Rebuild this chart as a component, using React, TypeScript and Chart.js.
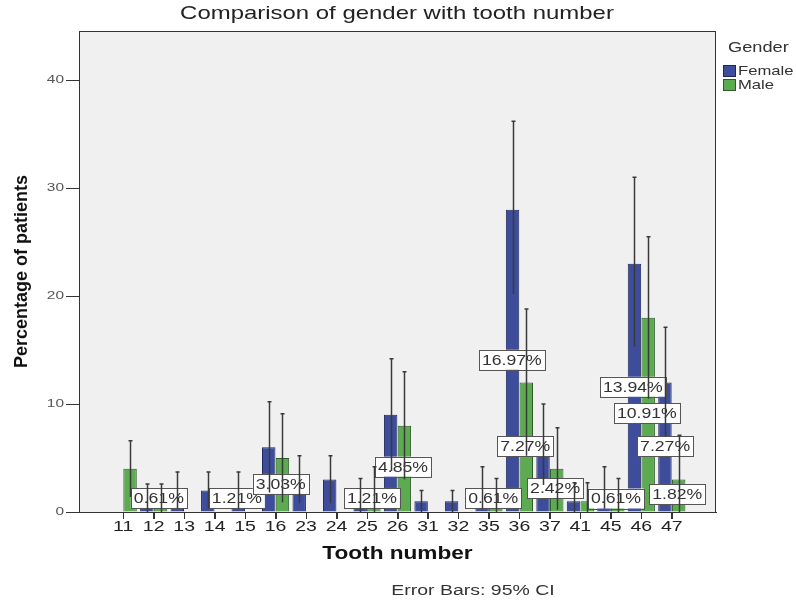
import React, { useEffect, useRef } from 'react';
import { Chart, registerables } from 'chart.js';

Chart.register(...registerables);

// ---------- data ----------
const toothLabels = ['11', '12', '13', '14', '15', '16', '23', '24', '25', '26', '31', '32', '35', '36', '37', '41', '45', '46', '47'];
const female = [null, 1, 2, 2, 2, 6, 3, 3, 1, 9, 1, 1, 2, 28, 6, 1, 2, 23, 12];
const male = [4, 1, null, null, null, 5, null, null, 2, 8, null, null, 1, 12, 4, 1, 1, 18, 3];
const femaleLow = [null, 0, 0.3, 0.3, 0.3, 1.8, 0.8, 0.8, 0, 3.8, 0, 0, 0.3, 20.2, 2.5, 0, 0.3, 15.3, 7.0];
const femaleHigh = [null, 2.6, 3.7, 3.7, 3.7, 10.2, 5.2, 5.2, 3.1, 14.2, 2.0, 2.0, 4.2, 36.2, 10.0, 2.7, 4.2, 31.0, 17.1];
const maleLow = [1.4, 0, null, null, null, 0.9, null, null, 0, 3.0, null, null, 0, 5.2, 0.2, 0, 0, 10.5, 0];
const maleHigh = [6.6, 2.6, null, null, null, 9.1, null, null, 4.2, 13.0, null, null, 3.1, 18.8, 7.8, 2.7, 3.1, 25.5, 7.1];
const yTickValues = [0, 10, 20, 30, 40];

// value labels (percent of all patients), placed in data units
const pctText = ['0.61%', '1.21%', '3.03%', '1.21%', '4.85%', '0.61%', '16.97%', '7.27%', '2.42%', '0.61%', '13.94%', '10.91%', '7.27%', '1.82%'];
const pctX = [1.17, 3.73, 5.17, 8.16, 9.18, 12.14, 12.75, 13.19, 14.17, 16.17, 16.72, 17.18, 17.78, 18.18];
const pctY = [1.3, 1.3, 2.6, 1.3, 4.2, 1.3, 14.1, 6.1, 2.2, 1.25, 11.6, 9.17, 6.1, 1.67];

const seriesNames = ['Female', 'Male'];
const legendTitle = 'Gender';
const chartTitle = 'Comparison of gender with tooth number';
const xTitle = 'Tooth number';
const yTitle = 'Percentage of patients';
const footNote = 'Error Bars: 95% CI';

// ---------- styles ----------
const FONT = "'Liberation Sans', Arial, sans-serif";
const FEMALE_FILL = '#3d4d9c';
const FEMALE_EDGE = '#1e275a';
const MALE_FILL = '#5cab50';
const MALE_EDGE = '#2d5a28';

function drawText(
  ctx: CanvasRenderingContext2D,
  text: string,
  x: number,
  y: number,
  font: string,
  color: string,
  sx: number,
  align: CanvasTextAlign = 'center',
  rot = 0
) {
  ctx.save();
  ctx.translate(x, y);
  if (rot) ctx.rotate(rot);
  ctx.scale(sx, 1);
  ctx.font = font;
  ctx.fillStyle = color;
  ctx.textAlign = align;
  ctx.textBaseline = 'middle';
  ctx.fillText(text, 0, 0);
  ctx.restore();
}

export default function App() {
  const ref = useRef<HTMLCanvasElement>(null);

  useEffect(() => {
    const canvas = ref.current!;
    const spss = {
      id: 'spss',
      beforeDraw(chart: any) {
        const { ctx, chartArea: a } = chart;
        ctx.save();
        ctx.fillStyle = '#ffffff';
        ctx.fillRect(0, 0, chart.width, chart.height);
        ctx.fillStyle = '#f0f0f0';
        ctx.fillRect(a.left, a.top, a.right - a.left, a.bottom - a.top);
        ctx.restore();
      },
      afterDatasetsDraw(chart: any) {
        const { ctx, chartArea: a } = chart;
        const xs = chart.scales.x;
        const ys = chart.scales.y;
        // value label boxes
        ctx.save();
        for (let k = 0; k < pctText.length; k++) {
          const px = xs.getPixelForValue(pctX[k]);
          const py = ys.getPixelForValue(pctY[k]);
          ctx.font = `14px ${FONT}`;
          const sx = 1.26;
          const w = ctx.measureText(pctText[k]).width * sx + 6;
          const h = 20;
          ctx.fillStyle = '#ffffff';
          ctx.fillRect(px - w / 2, py - h / 2, w, h);
          ctx.strokeStyle = '#555555';
          ctx.lineWidth = 1;
          ctx.strokeRect(Math.round(px - w / 2) + 0.5, Math.round(py - h / 2) + 0.5, Math.round(w), h);
          drawText(ctx, pctText[k], px, py + 1, `14px ${FONT}`, '#333333', sx);
        }
        ctx.restore();
        // error bars
        const lows = [femaleLow, maleLow];
        const highs = [femaleHigh, maleHigh];
        ctx.save();
        ctx.strokeStyle = '#3a3a3a';
        ctx.lineWidth = 1.5;
        for (let d = 0; d < 2; d++) {
          const meta = chart.getDatasetMeta(d);
          meta.data.forEach((el: any, i: number) => {
            const lo = lows[d][i];
            const hi = highs[d][i];
            if (lo == null || hi == null) return;
            const x = Math.round(el.x) + 0.5;
            const y1 = ys.getPixelForValue(hi);
            const y0 = ys.getPixelForValue(lo);
            ctx.beginPath();
            ctx.moveTo(x, y0);
            ctx.lineTo(x, y1);
            ctx.moveTo(x - 2, y1);
            ctx.lineTo(x + 2, y1);
            ctx.stroke();
          });
        }
        ctx.restore();
        // frame and x tick marks
        ctx.save();
        ctx.strokeStyle = '#333333';
        ctx.lineWidth = 1;
        ctx.strokeRect(a.left + 0.5, a.top + 0.5, a.right - a.left - 1, a.bottom - a.top);
        ctx.beginPath();
        xs.ticks.forEach((t: any) => {
          const px = Math.round(xs.getPixelForValue(t.value)) + 0.5;
          ctx.moveTo(px, a.bottom);
          ctx.lineTo(px, a.bottom + 7);
        });
        ctx.stroke();
        ctx.restore();
      },
      afterDraw(chart: any) {
        const { ctx, chartArea: a } = chart;
        const xs = chart.scales.x;
        const ys = chart.scales.y;
        // tick labels
        xs.ticks.forEach((t: any) => {
          const px = xs.getPixelForValue(t.value);
          drawText(ctx, toothLabels[t.value], px, a.bottom + 15, `15px ${FONT}`, '#222222', 1.3);
        });
        ys.ticks.forEach((t: any) => {
          const py = ys.getPixelForValue(t.value);
          drawText(ctx, String(t.value), a.left - 15, py, `11px ${FONT}`, '#555555', 1.4, 'right');
        });
        // titles
        drawText(ctx, chartTitle, 397, 14, `19px ${FONT}`, '#222222', 1.26);
        drawText(ctx, xTitle, (a.left + a.right) / 2, 554, `bold 19px ${FONT}`, '#111111', 1.19);
        drawText(ctx, yTitle, 22, (a.top + a.bottom) / 2, `bold 18px ${FONT}`, '#111111', 1, 'center', -Math.PI / 2);
        drawText(ctx, footNote, 473, 591, `14px ${FONT}`, '#333333', 1.39);
        // legend
        drawText(ctx, legendTitle, 728, 48, `14px ${FONT}`, '#333333', 1.3, 'left');
        const fills = [FEMALE_FILL, MALE_FILL];
        const edges = [FEMALE_EDGE, MALE_EDGE];
        seriesNames.forEach((name, i) => {
          const top = 65 + i * 14;
          ctx.save();
          ctx.fillStyle = fills[i];
          ctx.fillRect(723, top, 13, 12);
          ctx.strokeStyle = edges[i];
          ctx.lineWidth = 1;
          ctx.strokeRect(723.5, top + 0.5, 12, 11);
          ctx.restore();
          drawText(ctx, name, 738, top + 6.5, `13px ${FONT}`, '#333333', 1.28, 'left');
        });
      },
    };

    const chart = new Chart(canvas, {
      type: 'bar',
      data: {
        datasets: [
          {
            label: seriesNames[0],
            data: female.map((v, i) => ({ x: i, y: v })) as any,
            backgroundColor: FEMALE_FILL,
            borderColor: FEMALE_EDGE,
            borderWidth: 1,
          },
          {
            label: seriesNames[1],
            data: male.map((v, i) => ({ x: i, y: v })) as any,
            backgroundColor: MALE_FILL,
            borderColor: MALE_EDGE,
            borderWidth: 1,
          },
        ],
      },
      options: {
        responsive: false,
        animation: false,
        devicePixelRatio: 1,
        layout: { padding: { left: 0, right: 80, top: 31, bottom: 0 } },
        datasets: { bar: { categoryPercentage: 0.9, barPercentage: 0.98 } } as any,
        plugins: {
          legend: { display: false },
          title: { display: false },
          tooltip: { enabled: false },
        },
        scales: {
          x: {
            type: 'linear',
            min: -1.45,
            max: 19.45,
            offset: false,
            ticks: { display: false },
            grid: { drawOnChartArea: false, drawTicks: true, tickLength: 7, color: '#333333', offset: false },
            border: { display: true, color: '#333333' },
            afterBuildTicks: (s: any) => {
              s.ticks = toothLabels.map((_, i) => ({ value: i }));
            },
            afterFit: (s: any) => {
              s.height = 91;
            },
          },
          y: {
            type: 'linear',
            min: 0,
            max: 44.55,
            ticks: { display: false },
            grid: { drawOnChartArea: false, drawTicks: true, tickLength: 13, color: '#333333' },
            border: { display: true, color: '#333333' },
            afterBuildTicks: (s: any) => {
              s.ticks = yTickValues.map((v) => ({ value: v }));
            },
            afterFit: (s: any) => {
              s.width = 79;
            },
          },
        } as any,
      },
      plugins: [spss],
    });
    return () => chart.destroy();
  }, []);

  return (
    <div style={{ position: 'fixed', left: 0, top: 0, width: 796, height: 603, background: '#ffffff' }}>
      <canvas ref={ref} width={796} height={603} style={{ width: 796, height: 603, display: 'block' }} />
    </div>
  );
}
